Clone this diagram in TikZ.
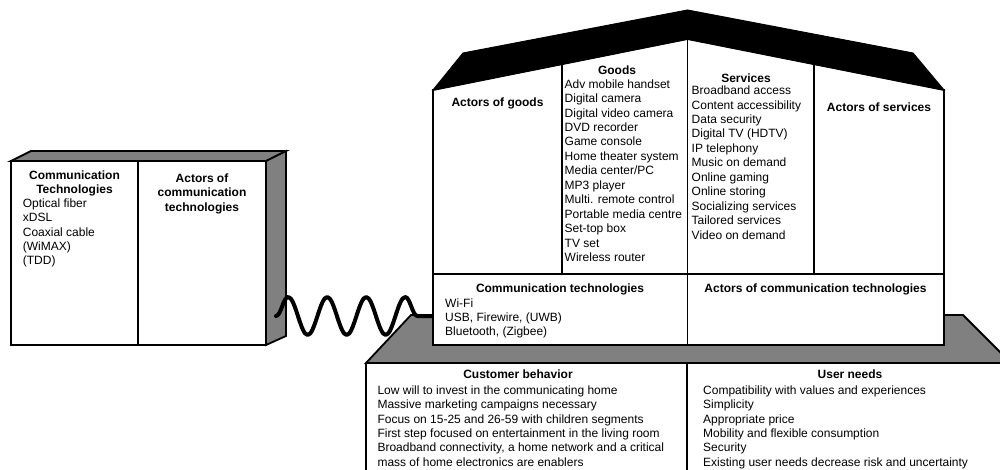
\documentclass[tikz,border=0pt]{standalone}
\usepackage{fontspec}
\setmainfont{Liberation Sans}
\usetikzlibrary{decorations.pathmorphing}

\begin{document}
\begin{tikzpicture}[x=1pt, y=-1pt,
  wall/.style={draw=black, line width=1.8pt, line join=miter},
  shade/.style={wall, fill=black!50},
  head/.style={font=\fontsize{12}{14}\selectfont\bfseries, inner sep=0pt, anchor=base},
  headc/.style={font=\fontsize{12}{#1}\selectfont\bfseries, inner sep=0pt, anchor=north, align=center},
  items/.style={font=\fontsize{12}{#1}\selectfont, inner sep=0pt, anchor=north west, align=left},
  spring/.style={line width=4pt, line cap=round, line join=round, decorate,
    decoration={snake, segment length=39pt, amplitude=19pt}},
]
\clip (0,0) rectangle (1000,469);
\fill[white] (0,0) rectangle (1000,469);

% ---- floor slab under the house, with the table hanging below it
\draw[shade] (366,363) -- (411,315) -- (963,315) -- (1011,363) -- cycle;
\draw[wall] (366,363) -- (366,480);
\draw[wall] (687,363) -- (687,480);

% ---- outside box (access network)
\draw[shade] (11,161) -- (31,151) -- (286,151) -- (266,161) -- cycle;
\draw[shade] (266,161) -- (286,151) -- (286,336) -- (266,345) -- cycle;
\draw[wall, fill=white] (11,161) rectangle (266,345);
\draw[wall] (138,161) -- (138,345);

\node[headc=14.3] (ctHead) at (74.5,170.4) {Communication\\Technologies};
\node[items=14.4] (ctList) at (22.7,198.4)
  {Optical fiber\\xDSL\\Coaxial cable\\(WiMAX)\\(TDD)};
\node[headc=14.5] (ctActors) at (202,173.4) {Actors of\\communication\\technologies};

% ---- link between the access network and the home
\coordinate (springL) at (276,316);
\coordinate (springR) at (434,316);
\draw[spring] (springL) -- (springR);

% ---- house walls and roof
\draw[wall, fill=white] (433,90) -- (687.5,39) -- (944,90) -- (944,345) -- (433,345) -- cycle;
\draw[fill=black, line width=1pt, line join=miter]
  (433,90) -- (463,53) -- (687.5,10) -- (913,53) -- (944,90) -- (687.5,39) -- cycle;
\draw[wall] (562,64) -- (562,274);
\draw[wall] (687.5,39) -- (687.5,345);
\draw[wall] (814,64) -- (814,274);
\draw[wall] (433,274) -- (944,274);

% ---- upper rooms
\node[head] (goodsActors) at (497.5,106.8) {Actors of goods};
\node[head] (goodsHead) at (617,74.3) {Goods};
\node[items=14.45] (goodsList) at (564.5,79.2)
  {Adv mobile handset\\Digital camera\\Digital video camera\\DVD recorder\\Game console\\%
   Home theater system\\Media center/PC\\MP3 player\\Multi. remote control\\%
   Portable media centre\\Set-top box\\TV set\\Wireless router};
\node[head] (servHead) at (746,82.6) {Services};
\node[items=14.45] (servList) at (691.5,85.7)
  {Broadband access\\Content accessibility\\Data security\\Digital TV (HDTV)\\IP telephony\\%
   Music on demand\\Online gaming\\Online storing\\Socializing services\\Tailored services\\%
   Video on demand};
\node[head] (servActors) at (879,111) {Actors of services};

% ---- ground floor
\node[head] (homeCT) at (560,292.5) {Communication technologies};
\node[items=14.2] (homeCTList) at (445,298.5)
  {Wi-Fi\\USB, Firewire, (UWB)\\Bluetooth, (Zigbee)};
\node[head] (homeActors) at (815.5,292.5) {Actors of communication technologies};

% ---- foundation table
\node[head] (custHead) at (518,378.3) {Customer behavior};
\node[items=14.45] (custList) at (377.3,385.2)
  {Low will to invest in the communicating home\\Massive marketing campaigns necessary\\%
   Focus on 15-25 and 26-59 with children segments\\First step focused on entertainment in the living room\\%
   Broadband connectivity, a home network and a critical\\mass of home electronics are enablers};
\node[head] (needHead) at (850,378.3) {User needs};
\node[items=14.45] (needList) at (703,385.2)
  {Compatibility with values and experiences\\Simplicity\\Appropriate price\\%
   Mobility and flexible consumption\\Security\\Existing user needs decrease risk and uncertainty};
\end{tikzpicture}
\end{document}
